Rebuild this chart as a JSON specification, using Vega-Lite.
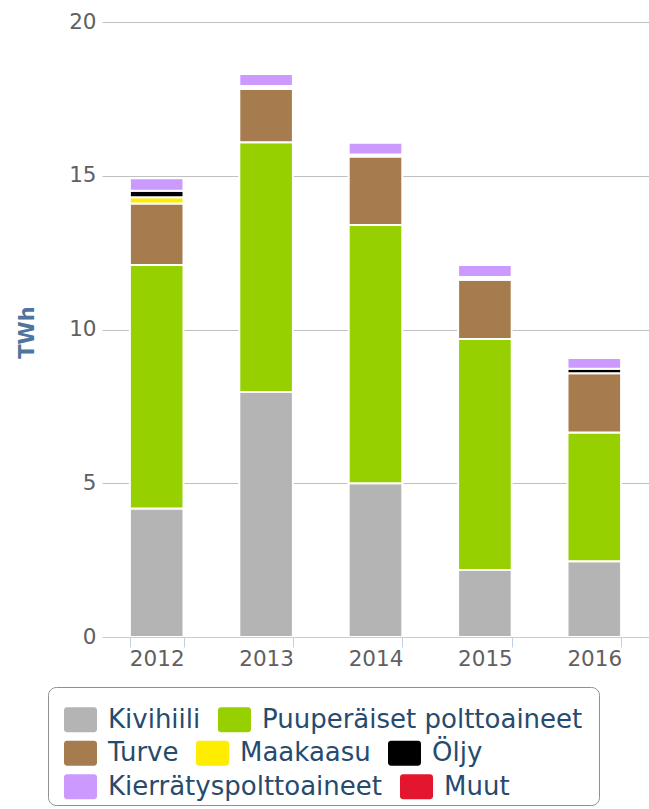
{
  "$schema": "https://vega.github.io/schema/vega-lite/v6.json",
  "autosize": {"type": "none"},
  "padding": {"left": 102, "top": 22, "right": 0, "bottom": 172},
  "width": 547,
  "height": 615,
  "background": "white",
  "config": {
    "view": {"stroke": null},
    "legend": {
      "orient": "none", "direction": "horizontal",
      "symbolType": "M-0.82,-0.76L0.82,-0.76A0.18,0.18,0,0,1,1,-0.58L1,0.58A0.18,0.18,0,0,1,0.82,0.76L-0.82,0.76A0.18,0.18,0,0,1,-1,0.58L-1,-0.58A0.18,0.18,0,0,1,-0.82,-0.76Z",
      "symbolSize": 1089, "symbolStrokeWidth": 0, "symbolOpacity": 1,
      "labelFont": "DejaVu Sans", "labelFontSize": 26, "labelColor": "#274b6d",
      "labelOffset": 11, "labelLimit": 600, "columnPadding": 17
    }
  },
  "data": {"values": [
    {"vuosi": "2012", "laji": "Kivihiili", "twh": 4.18},
    {"vuosi": "2012", "laji": "Puuperäiset polttoaineet", "twh": 7.92},
    {"vuosi": "2012", "laji": "Turve", "twh": 2.0},
    {"vuosi": "2012", "laji": "Maakaasu", "twh": 0.2},
    {"vuosi": "2012", "laji": "Öljy", "twh": 0.21},
    {"vuosi": "2012", "laji": "Kierrätyspolttoaineet", "twh": 0.41},
    {"vuosi": "2013", "laji": "Kivihiili", "twh": 7.97},
    {"vuosi": "2013", "laji": "Puuperäiset polttoaineet", "twh": 8.12},
    {"vuosi": "2013", "laji": "Turve", "twh": 1.73},
    {"vuosi": "2013", "laji": "Maakaasu", "twh": 0.05},
    {"vuosi": "2013", "laji": "Öljy", "twh": 0.05},
    {"vuosi": "2013", "laji": "Kierrätyspolttoaineet", "twh": 0.39},
    {"vuosi": "2014", "laji": "Kivihiili", "twh": 5.0},
    {"vuosi": "2014", "laji": "Puuperäiset polttoaineet", "twh": 8.4},
    {"vuosi": "2014", "laji": "Turve", "twh": 2.23},
    {"vuosi": "2014", "laji": "Öljy", "twh": 0.06},
    {"vuosi": "2014", "laji": "Kierrätyspolttoaineet", "twh": 0.38},
    {"vuosi": "2015", "laji": "Kivihiili", "twh": 2.18},
    {"vuosi": "2015", "laji": "Puuperäiset polttoaineet", "twh": 7.51},
    {"vuosi": "2015", "laji": "Turve", "twh": 1.93},
    {"vuosi": "2015", "laji": "Maakaasu", "twh": 0.04},
    {"vuosi": "2015", "laji": "Öljy", "twh": 0.05},
    {"vuosi": "2015", "laji": "Kierrätyspolttoaineet", "twh": 0.39},
    {"vuosi": "2016", "laji": "Kivihiili", "twh": 2.46},
    {"vuosi": "2016", "laji": "Puuperäiset polttoaineet", "twh": 4.19},
    {"vuosi": "2016", "laji": "Turve", "twh": 1.93},
    {"vuosi": "2016", "laji": "Öljy", "twh": 0.14},
    {"vuosi": "2016", "laji": "Kierrätyspolttoaineet", "twh": 0.35}
  ]},
  "transform": [
    {"calculate": "indexof(['Kivihiili','Puuperäiset polttoaineet','Turve','Maakaasu','Öljy','Kierrätyspolttoaineet','Muut'], datum.laji)", "as": "jarj"},
    {"stack": "twh", "groupby": ["vuosi"], "sort": [{"field": "jarj", "order": "ascending"}], "as": ["alku", "loppu"]}
  ],
  "encoding": {
    "x": {
      "field": "vuosi", "type": "nominal",
      "scale": {"paddingInner": 0.51, "paddingOuter": 0.255},
      "axis": {
        "title": null, "labelAngle": 0, "tickBand": "extent",
        "domainColor": "#C0D0E0", "tickColor": "#C0D0E0", "tickSize": 10,
        "labelFont": "DejaVu Sans", "labelFontSize": 21.5, "labelColor": "#606060",
        "labelPadding": 12, "labelBaseline": "middle", "zindex": 1, "grid": false
      }
    },
    "y": {
      "field": "alku", "type": "quantitative",
      "scale": {"domain": [0, 20], "nice": false},
      "axis": {
        "values": [0, 5, 10, 15, 20], "domain": false, "ticks": false, "tickSize": 0,
        "grid": true, "gridColor": "#C0C0C0", "gridWidth": 1,
        "labelFont": "DejaVu Sans", "labelFontSize": 21.5, "labelColor": "#606060", "labelPadding": 6,
        "title": "TWh", "titleColor": "#4d759e", "titleFont": "DejaVu Sans", "titleFontSize": 21,
        "titleFontWeight": "bold", "titleX": -69, "titleY": 310, "titleAngle": -90,
        "titleBaseline": "alphabetic", "titleAlign": "center"
      }
    },
    "y2": {"field": "loppu"}
  },
  "layer": [
    {
      "transform": [{"filter": "datum.jarj <= 1"}],
      "mark": {"type": "bar", "stroke": "white", "strokeWidth": 2},
      "encoding": {
        "color": {
          "field": "laji", "type": "nominal",
          "scale": {"domain": ["Kivihiili", "Puuperäiset polttoaineet"], "range": ["#b4b4b4", "#96d000"]},
          "legend": {
            "title": " ", "titleOrient": "bottom", "titleFontSize": 50, "titlePadding": 6,
            "legendX": -54, "legendY": 665, "padding": 16,
            "strokeColor": "#909090", "cornerRadius": 8,
            "encode": {"legend": {"update": {"strokeWidth": {"value": 2}}}}
          }
        }
      }
    },
    {
      "transform": [{"filter": "datum.jarj >= 2 && datum.jarj <= 4"}],
      "mark": {"type": "bar", "stroke": "white", "strokeWidth": 2},
      "encoding": {
        "color": {
          "field": "laji", "type": "nominal",
          "scale": {"domain": ["Turve", "Maakaasu", "Öljy"], "range": ["#a67c4e", "#ffed00", "#000000"]},
          "legend": {"title": null, "legendX": -38, "legendY": 714.5, "padding": 0}
        }
      }
    },
    {
      "transform": [{"filter": "datum.jarj >= 5"}],
      "mark": {"type": "bar", "stroke": "white", "strokeWidth": 2},
      "encoding": {
        "color": {
          "field": "laji", "type": "nominal",
          "scale": {"domain": ["Kierrätyspolttoaineet", "Muut"], "range": ["#cc99ff", "#e3162e"]},
          "legend": {"title": null, "legendX": -38, "legendY": 748, "padding": 0}
        }
      }
    }
  ],
  "resolve": {"scale": {"color": "independent"}, "legend": {"color": "independent"}}
}
